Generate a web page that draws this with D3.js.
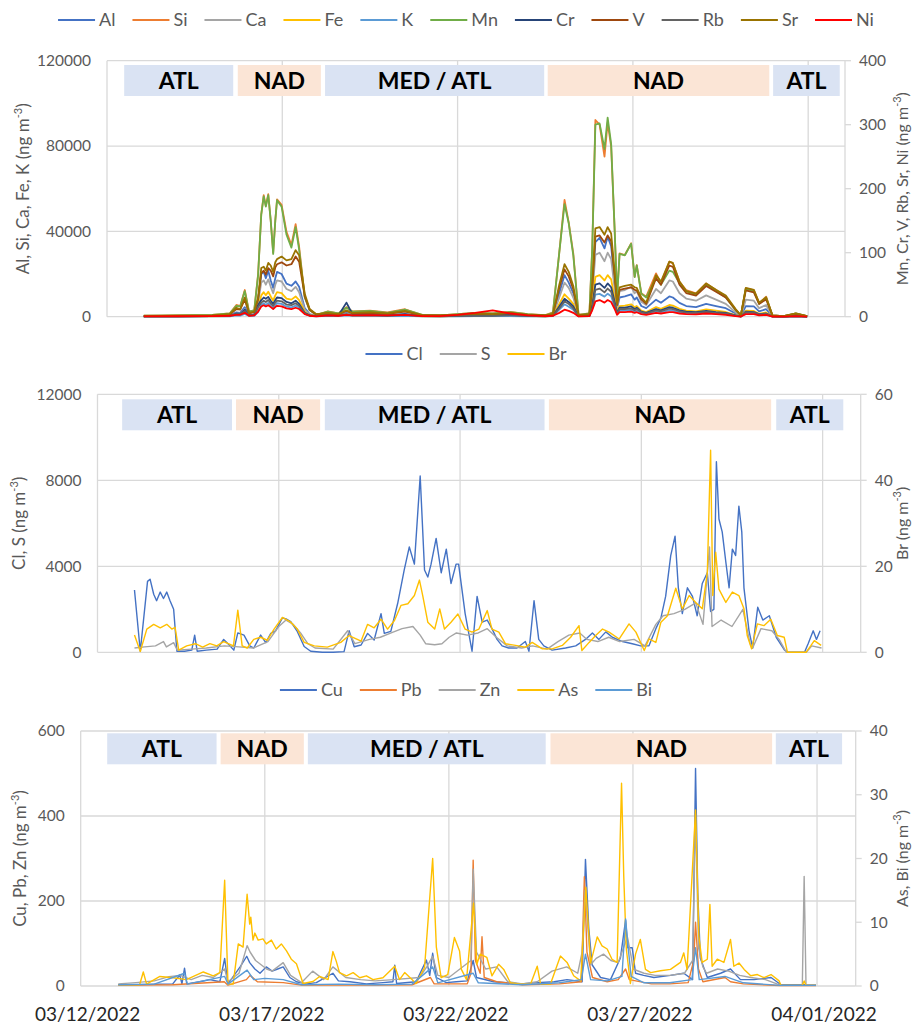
<!DOCTYPE html>
<html lang="en">
<head>
<meta charset="UTF-8">
<title>Element time series, 03/12/2022 - 04/01/2022</title>
<script src="https://d3js.org/d3.v7.min.js"></script>
<style>
  body { margin: 0; background: #fff; }
  svg { display: block; font-family: Lato, "Open Sans", sans-serif; }
  .tick-label { font-size: 15.5px; fill: #595959; }
  .axis-title { font-size: 17px; fill: #595959; }
  .axis-title.right { font-size: 16px; }
  .legend-label { font-size: 18px; fill: #595959; }
  .band-label { font-size: 23px; font-weight: bold; fill: #000; }
  .date-label { font-size: 19px; fill: #262626; }
</style>
</head>
<body>
<svg id="chart" width="914" height="1025"></svg>
<script>
// ---- data (time = days after 03/12/2022 00:00) ----
const dateTicks = [0, 5, 10, 15, 20];           // 03/12, 03/17, 03/22, 03/27, 04/01
const domainDays = 21.05;

const bandNames = ["ATL", "NAD", "MED / ATL", "NAD", "ATL"];
const bandKinds = ["atl", "nad", "atl", "nad", "atl"];
const p1BandSpans = [[0.49, 3.6], [3.73, 6.1], [6.22, 12.47], [12.57, 18.89], [19.0, 20.9]];
const p2BandSpans = [[0.68, 3.71], [3.82, 6.14], [6.27, 12.33], [12.45, 18.58], [18.72, 20.57]];
const p3BandSpans = [[0.72, 3.69], [3.8, 6.06], [6.17, 12.63], [12.76, 18.78], [18.88, 20.68]];

// panel 1: shared sampling days
const p1Days = [1.05,2.0,3.0,3.5,3.69,3.8,3.93,4.05,4.2,
  4.31,4.4,4.47,4.53,4.6,4.67,4.74,4.8,4.85,4.98,5.12,5.26,5.38,5.48,5.64,5.78,5.97,
  6.3,6.6,6.83,7.0,7.5,8.0,8.5,9.0,9.5,10.0,10.5,11.0,11.5,12.0,12.5,
  12.72,12.9,13.05,13.17,13.3,13.45,13.76,13.84,13.93,14.05,14.19,14.28,14.38,14.48,14.55,14.62,14.77,14.95,15.05,15.11,15.24,15.38,15.66,15.8,16.04,16.14,16.33,16.52,16.8,17.09,17.37,17.65,17.93,18.08,18.22,18.45,18.6,18.8,18.98,19.3,19.65,19.97];

const alValues = [200,250,350,600,2000,1800,4500,900,1100,
  8000,20000,21000,18000,21500,17000,13500,18000,21000,20000,15500,14500,16500,14000,4000,1200,400,
  900,600,1800,900,1000,700,1200,300,250,450,700,550,800,450,250,
  700,11000,19500,16000,11000,400,600,12000,35000,37000,32000,37500,33000,16000,4000,9000,9500,10500,8000,9000,5000,4000,8000,6500,9500,9000,6500,5000,4500,6000,5000,4000,1500,200,5000,4800,2500,3500,200,100,500,100];
const siValues = [500,600,900,1500,5500,5000,12500,2500,3000,
  20000,48000,57000,52000,57400,45000,30000,45000,55000,52400,39800,33600,43400,32800,9400,3100,800,
  2500,1500,4500,2500,2800,2000,3500,800,600,1200,1800,1500,2200,1200,700,
  2000,30000,54700,44100,29700,1000,1500,32000,92200,90000,75000,91000,79700,40600,9400,29700,28900,34400,18700,24200,11000,9400,20300,15600,25800,25000,16400,12500,10900,15600,12500,9400,3100,500,13300,12500,6300,9400,500,300,1500,200];
const caValues = [150,200,300,500,1600,1400,3600,700,900,
  6500,16000,17000,15000,17500,14000,11000,15000,17000,16500,13000,12000,14000,11500,3200,1000,300,
  800,500,1500,800,900,600,1000,250,200,400,600,500,700,400,200,
  600,9000,16000,13500,9000,300,500,10000,29000,30000,26000,30000,27000,13000,3500,12000,12500,14000,11000,12000,7000,5500,13000,11000,17000,16500,11000,8500,7500,10000,8000,6000,2000,200,8000,7500,4000,5500,200,100,500,100];
const feValues = [100,150,200,300,1000,900,2300,500,600,
  4000,10000,11500,10000,11700,9500,7500,10000,11500,11000,8500,8000,9500,7800,2200,700,250,
  500,350,1000,500,600,400,700,200,150,250,400,300,450,250,150,
  400,6000,10500,8500,6000,250,350,6500,18700,19500,17000,19500,17500,8500,2200,5000,5200,5800,4500,5000,2800,2200,4500,3700,5500,5200,3700,2800,2500,3400,2800,2200,800,100,2800,2700,1400,2000,100,50,300,50];
const kValues = [80,100,150,200,600,550,1300,300,350,
  2200,5500,6300,5500,6500,5200,4200,5500,6300,6000,4700,4400,5200,4300,1300,450,200,
  350,250,600,350,400,300,450,150,120,200,300,250,300,200,120,
  250,3300,5800,4700,3300,150,250,3600,10300,10700,9400,10800,9600,4700,1300,2800,2900,3200,2500,2800,1600,1300,2500,2100,3000,2900,2100,1600,1400,1900,1600,1200,450,80,1600,1500,800,1100,80,50,200,50];
const mnValues = [1.5,2,3,5,17,16,40,8,10,
  65,160,188,172,190,150,98,150,182,172,128,108,140,105,30,10,3,
  8,5,14,8,9,6,11,3,2,4,6,5,7,4,2,
  6,100,176,146,96,3,5,105,300,302,262,311,270,135,30,98,96,114,62,80,36,30,60,50,72,70,52,40,34,50,40,30,10,2,44,40,20,30,2,1,5,1];
const crValues = [0.5,0.7,1,1.5,5,4.5,11,2.5,3,
  18,26,30,28,31,25,20,26,30,29,23,21,25,20,6,2,1,
  3,2,22,4,3,2,4,1,1,1.5,2,2,3,1.5,1,
  2,16,28,23,16,1,1.5,17,50,52,45,52,46,23,6,14,14,16,12,14,8,6,12,10,15,14,10,8,7,9,7,6,2,0.5,8,7,4,5,0.5,0.3,1,0.3];
const vValues = [1,1.3,1.8,3.5,12,11,27,5,7,
  27,68,72,66,76,72,63,77,82,85,80,82,94,86,32,11,3.5,
  5,3.5,9,5,6,4.5,8,2,2,3,4.5,3.5,5.5,3,2,
  3.5,45,74,63,43,2,3.5,45,125,127,116,127,118,63,18,42,44,46,42,41,27,20,60,50,80,78,50,37,33,48,39,30,11,2,41,38,20,27,2,1,4.5,1];
const rbValues = [0.4,0.6,0.9,1.3,4,3.8,9,2,2.5,
  15,22,25,23,26,21,17,22,25,24,19,18,21,17,5,1.5,0.8,
  2,1.5,4,2,2.5,1.5,3,0.8,0.7,1.2,1.7,1.5,2.2,1.2,0.7,
  1.5,13,24,20,13,0.8,1.2,14,42,44,38,44,39,19,5,12,12,13,10,12,7,5,10,8.5,12.5,12,8.5,6.5,6,7.5,6,5,1.7,0.4,7,6.5,3.5,4.5,0.4,0.3,0.8,0.3];
const srValues = [1,1.5,2,4,14,12,30,6,8,
  30,76,78,72,84,80,70,85,90,94,88,90,104,96,36,12,4,
  6,4,10,6,7,5,9,2,2,3,5,4,6,3,2,
  4,50,82,70,48,2,4,50,138,140,128,140,130,70,20,46,48,50,46,45,30,22,65,55,86,84,55,40,36,52,42,33,12,2,45,42,22,30,2,1,5,1];
const niValues = [0.5,0.7,1,1.5,3,3,6,1.5,2,
  8,16,18,16,18,15,12,15,17,16,13,12,14,12,4,1.5,0.5,
  2,1.5,3,2,2.5,2,3,1,1,3,6,10,5,2,1,
  1.5,6,11,9,6,0.5,1,10,24,26,22,26,23,12,3,7,7,8,6,7,4,3,6,5,7,7,5,4,3.5,5,4,3,1,0.3,4,4,2,3,0.3,0.2,1,0.2];

// panel 2: [day, value]
const clPoints = [[1.02,2900],[1.18,50],[1.38,3300],[1.45,3400],[1.55,2700],[1.63,2400],[1.73,2800],[1.82,2500],[1.91,2800],[2.0,2400],[2.1,2000],[2.19,50],[2.4,50],[2.6,100],[2.68,800],[2.75,50],[3.0,100],[3.3,150],[3.48,600],[3.6,400],[3.76,100],[3.87,900],[4.04,800],[4.2,300],[4.31,200],[4.5,800],[4.64,450],[4.78,880],[4.91,1000],[5.1,1600],[5.2,1550],[5.33,1430],[5.51,970],[5.7,270],[5.88,50],[6.2,0],[6.5,0],[6.8,30],[6.94,1000],[7.08,260],[7.27,340],[7.45,880],[7.63,570],[7.82,1800],[7.91,880],[8.09,970],[8.28,2280],[8.46,3830],[8.6,4900],[8.74,4100],[8.9,8200],[9.02,3830],[9.11,3500],[9.2,4100],[9.34,5300],[9.48,3700],[9.62,4800],[9.75,3200],[9.89,4100],[9.96,4100],[10.14,1800],[10.33,50],[10.47,2600],[10.61,1400],[10.75,1500],[10.88,1100],[11.02,600],[11.16,300],[11.34,200],[11.57,200],[11.8,500],[11.9,50],[12.04,2400],[12.17,600],[12.31,300],[12.54,100],[12.91,200],[13.19,300],[13.46,600],[13.65,900],[13.83,600],[14.02,950],[14.2,700],[14.48,500],[14.75,400],[14.98,300],[15.21,300],[15.4,1100],[15.54,1600],[15.67,2600],[15.81,4500],[15.93,5400],[16.02,3000],[16.13,1800],[16.27,3000],[16.41,2600],[16.54,1700],[16.68,3200],[16.82,3700],[16.91,1900],[17.0,2000],[17.07,8860],[17.14,6200],[17.23,5600],[17.33,4200],[17.42,3000],[17.51,4800],[17.6,4500],[17.69,6800],[17.77,5600],[17.83,3000],[17.97,1000],[18.07,200],[18.21,2100],[18.35,1500],[18.53,1700],[18.72,700],[18.95,100],[19.05,0],[19.5,0],[19.6,400],[19.74,1000],[19.83,600],[19.93,1000]];
const sPoints = [[1.02,200],[1.3,250],[1.6,300],[1.82,500],[1.9,250],[2.1,450],[2.2,100],[2.6,150],[3.0,200],[3.5,300],[3.9,250],[4.3,200],[4.7,500],[5.0,1200],[5.2,1500],[5.4,1300],[5.6,900],[5.8,400],[6.0,200],[6.5,150],[6.9,1000],[7.1,400],[7.5,600],[7.8,700],[8.1,900],[8.4,1100],[8.7,1200],[8.9,800],[9.05,400],[9.3,350],[9.5,400],[9.7,700],[9.9,900],[10.2,800],[10.5,900],[10.75,1100],[11.0,700],[11.3,300],[11.7,200],[12.0,300],[12.4,150],[12.7,500],[13.0,800],[13.3,900],[13.5,600],[13.8,500],[14.1,700],[14.4,500],[14.8,600],[15.1,300],[15.4,1300],[15.6,1700],[15.9,1800],[16.2,2000],[16.5,2300],[16.7,1300],[16.88,4900],[16.95,1200],[17.2,1500],[17.5,1200],[17.8,2000],[18.0,400],[18.07,200],[18.3,1100],[18.6,1000],[18.8,600],[19.0,0],[19.55,0],[19.7,300],[19.97,200]];
const brPoints = [[1.02,4.0],[1.18,0.2],[1.36,5.4],[1.55,6.5],[1.73,5.7],[1.91,6.5],[2.05,5.4],[2.14,5.8],[2.24,0.5],[2.46,1.5],[2.7,2],[2.9,1.2],[3.1,2],[3.29,1.5],[3.48,2.5],[3.75,1.5],[3.87,9.8],[3.99,1.5],[4.13,1],[4.31,3],[4.5,3.5],[4.68,2.8],[4.87,5.4],[5.1,8.1],[5.33,7.0],[5.51,5.4],[5.7,2.3],[5.98,1.5],[6.34,1.2],[6.71,2.3],[6.94,3.9],[7.27,2.6],[7.45,6.5],[7.63,5.7],[7.82,7.7],[8.0,5.4],[8.19,7.4],[8.37,10.9],[8.56,11.3],[8.74,13.2],[8.88,16.8],[8.97,13.2],[9.11,7.0],[9.3,5.4],[9.44,10.1],[9.57,5.4],[9.75,7.0],[9.94,8.9],[10.14,5.4],[10.33,4.7],[10.52,5.4],[10.75,9.7],[10.88,5.4],[11.07,4.7],[11.25,2],[11.53,1.6],[11.8,1.2],[11.99,2.3],[12.27,0.8],[12.54,0.8],[12.82,1.6],[13.05,3.5],[13.28,6.2],[13.36,0.4],[13.56,2.3],[13.74,3.9],[13.93,5.4],[14.11,4.7],[14.39,3.1],[14.66,6.6],[14.85,4.7],[15.08,0.4],[15.21,3.1],[15.4,2.3],[15.54,7.0],[15.72,8.5],[15.95,14.9],[16.13,10.1],[16.32,13.2],[16.5,11.6],[16.68,10.1],[16.82,18.6],[16.91,47],[16.97,13.2],[17.05,23.3],[17.14,14.7],[17.33,11.6],[17.51,14],[17.69,13.2],[17.83,10.1],[17.92,3.9],[18.04,0.8],[18.2,6.6],[18.38,6.2],[18.57,7.7],[18.75,3.9],[18.94,3.5],[19.03,0],[19.54,0],[19.68,1.6],[19.77,2.7],[19.96,1.6]];

// panel 3: [day, value]
const cuPoints = [[1.02,3],[1.5,3],[2.0,4],[2.5,5],[2.69,26],[2.75,5],[2.82,42],[2.88,5],[3.24,10],[3.51,15],[3.78,10],[3.91,65],[4.0,5],[4.33,45],[4.51,70],[4.59,55],[4.73,40],[4.87,30],[5.04,45],[5.2,35],[5.35,40],[5.5,45],[5.68,20],[5.86,10],[6.13,5],[6.4,8],[6.85,30],[7.0,12],[7.31,10],[7.76,5],[8.21,8],[8.48,10],[8.53,49],[8.58,6],[9.11,10],[9.39,61],[9.48,25],[9.56,77],[9.66,20],[9.93,8],[10.2,10],[10.5,12],[10.66,60],[10.75,20],[11.22,10],[11.94,5],[12.4,8],[12.86,10],[13.21,15],[13.62,10],[13.71,298],[13.8,136],[13.89,50],[14.12,20],[14.39,15],[14.66,66],[14.8,155],[14.86,90],[14.98,90],[15.07,30],[15.29,25],[15.57,20],[16.02,25],[16.38,30],[16.62,15],[16.7,512],[16.76,220],[16.83,66],[17.02,20],[17.38,30],[17.65,40],[17.92,15],[18.29,15],[18.75,20],[19.02,3],[19.97,3]];
const pbPoints = [[1.02,2],[2.5,3],[3.9,10],[4.0,2],[4.5,15],[4.6,25],[4.8,10],[5.5,8],[6.0,2],[7.0,3],[8.0,2],[9.0,3],[9.5,20],[9.6,5],[10.5,5],[10.6,30],[10.66,296],[10.72,60],[10.85,30],[10.9,116],[10.96,20],[11.3,10],[12.0,3],[13.0,5],[13.6,10],[13.68,257],[13.75,80],[13.9,20],[14.3,10],[14.6,15],[14.8,40],[14.9,15],[15.5,5],[16.0,5],[16.5,8],[16.65,60],[16.7,150],[16.78,40],[16.9,10],[17.5,20],[17.65,10],[18.0,5],[19.0,1],[19.97,1]];
const znPoints = [[1.02,5],[1.5,8],[2.0,12],[2.4,22],[2.7,25],[3.0,15],[3.3,25],[3.6,20],[3.91,40],[4.0,10],[4.3,30],[4.52,95],[4.6,80],[4.75,60],[4.9,50],[5.05,40],[5.2,35],[5.35,45],[5.5,55],[5.7,25],[6.0,8],[6.3,35],[6.6,15],[6.85,45],[7.2,20],[7.6,15],[8.0,12],[8.5,15],[9.2,20],[9.4,45],[9.56,70],[9.7,25],[10.0,20],[10.6,60],[10.66,275],[10.75,80],[11.0,40],[11.3,45],[11.6,10],[12.0,5],[12.4,10],[12.8,35],[13.2,45],[13.5,30],[13.62,80],[13.7,225],[13.85,50],[14.0,65],[14.2,75],[14.4,60],[14.6,55],[14.7,80],[14.85,115],[14.95,70],[15.0,40],[15.3,30],[15.6,25],[16.0,25],[16.4,30],[16.62,60],[16.7,405],[16.78,90],[16.9,45],[17.0,30],[17.3,40],[17.6,35],[17.9,25],[18.2,20],[18.6,15],[19.0,2],[19.6,2],[19.65,258],[19.7,3],[19.97,3]];
const asPoints = [[1.02,0.2],[1.6,0.2],[1.7,2.2],[1.79,0.3],[2.15,1.5],[2.51,1.3],[2.87,1.0],[3.33,2.2],[3.6,1.6],[3.78,2.1],[3.91,16.6],[4.0,0.3],[4.14,0.3],[4.28,6.6],[4.41,6.1],[4.52,14.4],[4.59,9.7],[4.62,10.8],[4.68,7.2],[4.73,8.3],[4.82,7.2],[4.95,7.4],[5.04,6.6],[5.18,7.2],[5.31,5.8],[5.45,6.6],[5.59,5.5],[5.72,4.2],[5.86,3.5],[6.04,0.4],[6.31,0.7],[6.49,1.5],[6.72,1.0],[6.85,5.4],[6.94,3.9],[7.03,2.1],[7.22,1.6],[7.4,2.1],[7.58,1.3],[7.76,1.6],[7.94,1.0],[8.21,1.3],[8.53,3.1],[8.66,1.0],[8.8,2.1],[9.11,0.4],[9.34,2.9],[9.56,20.0],[9.66,6.1],[9.79,1.3],[9.97,1.8],[10.15,7.6],[10.29,5.5],[10.34,2.6],[10.48,1.0],[10.67,13.0],[10.76,3.4],[10.85,5.0],[11.03,4.5],[11.17,1.6],[11.35,3.4],[11.49,2.6],[11.67,0.5],[11.94,0.3],[12.22,0.3],[12.4,3.1],[12.49,0.3],[12.76,0.3],[13.03,4.7],[13.21,3.7],[13.39,1.6],[13.58,0.8],[13.72,15.5],[13.85,3.6],[14.03,7.7],[14.16,6.3],[14.3,5.8],[14.43,4.2],[14.57,3.7],[14.69,31.8],[14.75,17.2],[14.82,5.8],[14.93,0.4],[15.07,5.0],[15.2,7.3],[15.34,2.6],[15.48,2.1],[15.75,2.4],[16.02,2.6],[16.29,3.7],[16.38,5.2],[16.47,2.6],[16.7,27.6],[16.79,7.8],[16.88,3.7],[17.02,4.2],[17.09,12.8],[17.15,3.1],[17.29,4.2],[17.47,3.7],[17.65,7.3],[17.74,3.1],[17.88,3.6],[18.02,2.6],[18.2,1.6],[18.38,1.8],[18.56,1.3],[18.75,1.8],[18.97,0.8],[19.02,0.1],[19.6,0.1],[19.65,0.8],[19.7,0.1],[19.97,0.1]];
const biPoints = [[1.02,0.2],[2.0,0.3],[2.82,2.0],[2.9,0.3],[3.91,1.5],[4.0,0.3],[4.52,2.5],[4.7,1.0],[5.0,1.2],[5.5,1.0],[6.0,0.2],[7.0,0.3],[8.0,0.2],[9.0,0.3],[9.56,3.0],[9.7,0.5],[10.66,2.0],[10.8,0.5],[12.0,0.2],[13.0,0.5],[13.6,1.0],[13.71,5.0],[13.85,1.0],[14.3,0.8],[14.7,1.5],[14.8,10.5],[14.87,6.0],[14.95,1.5],[15.3,0.5],[16.0,0.5],[16.6,1.0],[16.7,6.0],[16.8,1.0],[17.5,1.5],[18.0,0.5],[19.0,0.1],[19.97,0.1]];

// ---- helpers ----
const startMs = Date.UTC(2022, 2, 12);
const toDate = d => new Date(startMs + d * 864e5);
const zip = (days, vals) => days.map((t, i) => [t, vals[i]]);
const svg = d3.select("#chart");
const gridColor = "#d9d9d9";

function addTitle(g, x, y, label, cls) {
    const t = g.append("text")
        .attr("class", "axis-title " + cls)
        .attr("transform", `translate(${x},${y}) rotate(-90)`)
        .attr("text-anchor", "middle")
        .attr("dy", "0.35em");
    t.append("tspan").text(label + " (ng m");
    t.append("tspan").attr("dy", -7).attr("font-size", 11).text("-3");
    t.append("tspan").attr("dy", 7).text(")");
}

function drawPanel(p) {
    const g = svg.append("g");
    const x = d3.scaleUtc().domain([toDate(0), toDate(domainDays)]).range([p.left, p.right]);
    const yL = d3.scaleLinear().domain([0, p.leftTicks[p.leftTicks.length - 1]]).range([p.bottom, p.top]);
    const yR = d3.scaleLinear().domain([0, p.rightTicks[p.rightTicks.length - 1]]).range([p.bottom, p.top]);

    // horizontal gridlines (primary axis)
    g.selectAll(".hgrid").data(p.leftTicks).join("line")
        .attr("x1", p.left).attr("x2", p.right)
        .attr("y1", d => yL(d)).attr("y2", d => yL(d))
        .attr("stroke", gridColor).attr("stroke-width", 1.3);

    // vertical gridlines every 5 days
    g.selectAll(".vgrid").data(dateTicks).join("line")
        .attr("x1", d => x(toDate(d))).attr("x2", d => x(toDate(d)))
        .attr("y1", p.top).attr("y2", p.bottom)
        .attr("stroke", gridColor).attr("stroke-width", 1.3);

    // secondary axis line + outer ticks
    g.append("line")
        .attr("x1", p.right).attr("x2", p.right)
        .attr("y1", p.top).attr("y2", p.bottom)
        .attr("stroke", gridColor).attr("stroke-width", 1.3);
    g.selectAll(".rtick").data(p.rightTicks).join("line")
        .attr("x1", p.right).attr("x2", p.right + 6)
        .attr("y1", d => yR(d)).attr("y2", d => yR(d))
        .attr("stroke", gridColor).attr("stroke-width", 1.3);

    // air mass bands
    const bands = bandNames.map((name, i) => ({name, kind: bandKinds[i], span: p.bands[i]}));
    const bg = g.selectAll(".band").data(bands).join("g");
    bg.append("rect")
        .attr("x", d => x(toDate(d.span[0])))
        .attr("width", d => x(toDate(d.span[1])) - x(toDate(d.span[0])))
        .attr("y", p.bandTop).attr("height", 31)
        .attr("fill", d => d.kind === "atl" ? "#dae3f3" : "#fbe5d6");
    bg.append("text")
        .attr("class", "band-label")
        .attr("x", d => (x(toDate(d.span[0])) + x(toDate(d.span[1]))) / 2)
        .attr("y", p.bandTop + 15.5)
        .attr("dy", "0.36em")
        .attr("text-anchor", "middle")
        .text(d => d.name);

    // series
    const lineL = d3.line().x(d => x(toDate(d[0]))).y(d => yL(d[1])).defined(d => d[1] != null);
    const lineR = d3.line().x(d => x(toDate(d[0]))).y(d => yR(d[1])).defined(d => d[1] != null);
    p.series.forEach(s => {
        g.append("path")
            .datum(s.points)
            .attr("fill", "none")
            .attr("stroke", s.color)
            .attr("stroke-width", p.lineWidth)
            .attr("stroke-linejoin", "round")
            .attr("d", s.axis === "left" ? lineL : lineR);
    });

    // tick labels
    g.selectAll(".ltick").data(p.leftTicks).join("text")
        .attr("class", "tick-label")
        .attr("x", p.left - 16).attr("y", d => yL(d)).attr("dy", "0.35em")
        .attr("text-anchor", "end").text(d => d);
    g.selectAll(".rlabel").data(p.rightTicks).join("text")
        .attr("class", "tick-label")
        .attr("x", p.right + 14).attr("y", d => yR(d)).attr("dy", "0.35em")
        .text(d => d);

    const mid = (p.top + p.bottom) / 2;
    addTitle(g, p.leftTitleX, mid, p.leftTitle, "left");
    addTitle(g, 902, mid, p.rightTitle, "right");

    if (p.showDates) {
        g.selectAll(".date-label").data(dateTicks).join("text")
            .attr("class", "date-label")
            .attr("x", d => x(toDate(d)) + 7).attr("y", p.bottom + 35)
            .attr("text-anchor", "middle")
            .text(d => d3.utcFormat("%m/%d/%Y")(toDate(d)));
    }

    // legend, centred over the panel
    const lg = g.append("g");
    let cx = 0;
    p.series.forEach(s => {
        const item = lg.append("g").attr("transform", `translate(${cx},0)`);
        item.append("line").attr("x1", 0).attr("x2", 37).attr("y1", 0).attr("y2", 0)
            .attr("stroke", s.color).attr("stroke-width", 2);
        const t = item.append("text").attr("class", "legend-label")
            .attr("x", 41).attr("dy", "0.35em").text(s.name);
        cx += 41 + t.node().getComputedTextLength() + 17;
    });
    cx -= 17;
    lg.attr("transform", `translate(${466 - cx / 2},${p.legendY})`);
}

drawPanel({
    left: 107, right: 845, top: 60.7, bottom: 316.7,
    leftTicks: [0, 40000, 80000, 120000], rightTicks: [0, 100, 200, 300, 400],
    leftTitle: "Al, Si, Ca, Fe, K", rightTitle: "Mn, Cr, V, Rb, Sr, Ni", leftTitleX: 23,
    bands: p1BandSpans, bandTop: 65, legendY: 20, lineWidth: 1.8,
    series: [
        {name: "Al", color: "#4472c4", axis: "left", points: zip(p1Days, alValues)},
        {name: "Si", color: "#ed7d31", axis: "left", points: zip(p1Days, siValues)},
        {name: "Ca", color: "#a5a5a5", axis: "left", points: zip(p1Days, caValues)},
        {name: "Fe", color: "#ffc000", axis: "left", points: zip(p1Days, feValues)},
        {name: "K", color: "#5b9bd5", axis: "left", points: zip(p1Days, kValues)},
        {name: "Mn", color: "#70ad47", axis: "right", points: zip(p1Days, mnValues)},
        {name: "Cr", color: "#264478", axis: "right", points: zip(p1Days, crValues)},
        {name: "V", color: "#9e480e", axis: "right", points: zip(p1Days, vValues)},
        {name: "Rb", color: "#636363", axis: "right", points: zip(p1Days, rbValues)},
        {name: "Sr", color: "#997300", axis: "right", points: zip(p1Days, srValues)},
        {name: "Ni", color: "#ff0000", axis: "right", points: zip(p1Days, niValues)}
    ]
});

drawPanel({
    left: 97.5, right: 860.7, top: 394.3, bottom: 652.3,
    leftTicks: [0, 4000, 8000, 12000], rightTicks: [0, 20, 40, 60],
    leftTitle: "Cl, S", rightTitle: "Br", leftTitleX: 19,
    bands: p2BandSpans, bandTop: 399.3, legendY: 354, lineWidth: 1.4,
    series: [
        {name: "Cl", color: "#4472c4", axis: "left", points: clPoints},
        {name: "S", color: "#a5a5a5", axis: "left", points: sPoints},
        {name: "Br", color: "#ffc000", axis: "right", points: brPoints}
    ]
});

drawPanel({
    left: 80.7, right: 855.7, top: 731, bottom: 986,
    leftTicks: [0, 200, 400, 600], rightTicks: [0, 10, 20, 30, 40],
    leftTitle: "Cu, Pb, Zn", rightTitle: "As, Bi", leftTitleX: 20,
    bands: p3BandSpans, bandTop: 733.3, legendY: 690, lineWidth: 1.4, showDates: true,
    series: [
        {name: "Cu", color: "#4472c4", axis: "left", points: cuPoints},
        {name: "Pb", color: "#ed7d31", axis: "left", points: pbPoints},
        {name: "Zn", color: "#a5a5a5", axis: "left", points: znPoints},
        {name: "As", color: "#ffc000", axis: "right", points: asPoints},
        {name: "Bi", color: "#5b9bd5", axis: "right", points: biPoints}
    ]
});
</script>
</body>
</html>
